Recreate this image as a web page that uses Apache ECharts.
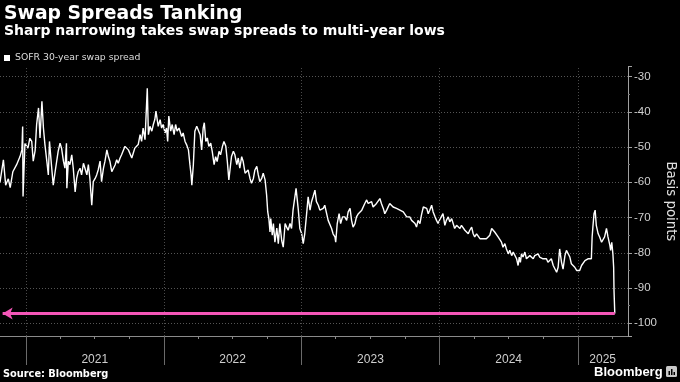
<!DOCTYPE html>
<html><head><meta charset="utf-8">
<script src="https://cdn.jsdelivr.net/npm/echarts@6/dist/echarts.min.js"></script>
<style>html,body{margin:0;padding:0;background:#000}#c{width:680px;height:382px}</style>
</head><body><div id="c"></div>
<script>
const seriesName = 'SOFR 30-year swap spread';
const dates = [
'2020-10-24','2020-11-02','2020-11-08','2020-11-15','2020-11-20','2020-11-27','2020-12-07','2020-12-16','2020-12-21','2020-12-23','2020-12-24','2020-12-29',
'2021-01-06','2021-01-11','2021-01-16','2021-01-20','2021-01-25','2021-01-29','2021-02-03','2021-02-07','2021-02-12','2021-02-16','2021-02-20','2021-02-25',
'2021-03-01','2021-03-04','2021-03-10','2021-03-14','2021-03-19','2021-03-27','2021-04-01','2021-04-05','2021-04-10','2021-04-14','2021-04-18','2021-04-19',
'2021-04-23','2021-04-27','2021-05-02','2021-05-06','2021-05-11','2021-05-15','2021-05-19','2021-05-24','2021-05-28','2021-06-02','2021-06-06','2021-06-11',
'2021-06-15','2021-06-19','2021-06-24','2021-06-28','2021-07-03','2021-07-07','2021-07-11','2021-07-16','2021-07-20','2021-07-25','2021-07-29','2021-08-03',
'2021-08-07','2021-08-11','2021-08-16','2021-08-20','2021-08-25','2021-08-29','2021-09-02','2021-09-07','2021-09-11','2021-09-16','2021-09-20','2021-09-29',
'2021-10-08','2021-10-12','2021-10-16','2021-10-25','2021-10-30','2021-11-03','2021-11-07','2021-11-12','2021-11-18','2021-11-21','2021-11-25','2021-11-30',
'2021-12-04','2021-12-08','2021-12-11','2021-12-15','2021-12-17','2021-12-22','2021-12-26','2021-12-30',
'2022-01-04','2022-01-08','2022-01-11','2022-01-14','2022-01-19','2022-01-23','2022-01-28','2022-02-01','2022-02-05','2022-02-10','2022-02-17','2022-02-21',
'2022-02-26','2022-03-02','2022-03-07','2022-03-11','2022-03-14','2022-03-16','2022-03-20','2022-03-24','2022-03-29','2022-04-02','2022-04-07','2022-04-11',
'2022-04-15','2022-04-18','2022-04-22','2022-04-26','2022-04-30','2022-05-05','2022-05-09','2022-05-14','2022-05-18','2022-05-22','2022-05-27','2022-05-31',
'2022-06-05','2022-06-09','2022-06-14','2022-06-18','2022-06-22','2022-06-25','2022-06-29','2022-07-04','2022-07-08','2022-07-13','2022-07-17','2022-07-21',
'2022-07-26','2022-07-30','2022-08-04','2022-08-08','2022-08-12','2022-08-17','2022-08-21','2022-08-26','2022-08-30','2022-09-04','2022-09-08','2022-09-12',
'2022-09-17','2022-09-21','2022-09-26','2022-09-30','2022-10-03','2022-10-06','2022-10-09','2022-10-11','2022-10-15','2022-10-18','2022-10-22','2022-10-27',
'2022-10-31','2022-11-04','2022-11-09','2022-11-13','2022-11-18','2022-11-22','2022-11-26','2022-12-01','2022-12-05','2022-12-09','2022-12-17','2022-12-23',
'2022-12-27',
'2023-01-01','2023-01-05','2023-01-09','2023-01-14','2023-01-18','2023-01-23','2023-01-27','2023-01-31','2023-02-05','2023-02-09','2023-02-14','2023-02-18',
'2023-02-23','2023-02-27','2023-03-03','2023-03-08','2023-03-12','2023-03-17','2023-03-21','2023-03-25','2023-03-30','2023-04-01','2023-04-05','2023-04-10',
'2023-04-14','2023-04-19','2023-04-25','2023-04-30','2023-05-04','2023-05-09','2023-05-13','2023-05-17','2023-05-22','2023-05-26','2023-05-31','2023-06-04',
'2023-06-09','2023-06-13','2023-06-17','2023-06-22','2023-06-26','2023-06-30','2023-07-05','2023-07-09','2023-07-18','2023-07-27','2023-07-31','2023-08-05',
'2023-08-09','2023-08-14','2023-08-18','2023-08-22','2023-08-27','2023-08-31','2023-09-05','2023-09-09','2023-09-13','2023-09-18','2023-09-22','2023-09-27',
'2023-10-01','2023-10-06','2023-10-10','2023-10-14','2023-10-19','2023-10-23','2023-10-28','2023-11-01','2023-11-05','2023-11-10','2023-11-14','2023-11-19',
'2023-11-23','2023-11-28','2023-12-02','2023-12-06','2023-12-11','2023-12-15','2023-12-20','2023-12-24','2023-12-28',
'2024-01-02','2024-01-06','2024-01-10','2024-01-15','2024-01-19','2024-01-24','2024-01-28','2024-02-02','2024-02-06','2024-02-10','2024-02-15','2024-02-19',
'2024-02-24','2024-02-28','2024-03-03','2024-03-08','2024-03-12','2024-03-17','2024-03-21','2024-03-26','2024-03-30','2024-04-03','2024-04-08','2024-04-12',
'2024-04-17','2024-04-21','2024-04-25','2024-04-30','2024-05-04','2024-05-09','2024-05-13','2024-05-18','2024-05-22','2024-05-26','2024-05-31','2024-06-04',
'2024-06-09','2024-06-13','2024-06-17','2024-06-22','2024-06-26','2024-07-01','2024-07-05','2024-07-10','2024-07-14','2024-07-18','2024-07-23','2024-07-27',
'2024-07-30','2024-08-02','2024-08-05','2024-08-09','2024-08-14','2024-08-18','2024-08-22','2024-08-27','2024-08-31','2024-09-05','2024-09-09','2024-09-14',
'2024-09-18','2024-09-22','2024-09-27','2024-10-01','2024-10-06','2024-10-10','2024-10-14','2024-10-19','2024-10-23','2024-10-28','2024-11-01','2024-11-06',
'2024-11-10','2024-11-14','2024-11-19','2024-11-23','2024-11-28','2024-12-02','2024-12-06','2024-12-11','2024-12-15','2024-12-20','2024-12-24','2024-12-29',
'2025-01-02','2025-01-06','2025-01-11','2025-01-15','2025-01-20','2025-01-24','2025-01-28','2025-02-02','2025-02-06','2025-02-08','2025-02-10','2025-02-13',
'2025-02-16','2025-02-19','2025-02-24','2025-02-28','2025-03-05','2025-03-09','2025-03-13','2025-03-18','2025-03-22','2025-03-27','2025-03-29','2025-04-01',
'2025-04-04','2025-04-06','2025-04-07','2025-04-09'
];
const values = [
-60,-53.6,-60.8,-59,-61.5,-57,-55,-52.7,-50.8,-44.2,-64,-49,
-50.3,-47.5,-48.4,-54,-51,-43.6,-38.9,-47.4,-37,-44.6,-49.3,-54,
-57.9,-48.4,-56,-60.8,-57,-51.2,-48.9,-50.3,-54,-56,-48.9,-61.7,
-54,-55,-52.2,-56,-62.7,-58.9,-57,-56,-57.9,-54.6,-56,-57.9,
-55,-58.9,-66.5,-59.8,-58.9,-57.9,-56.5,-54,-59.8,-56,-54,-50.8,
-52.7,-54,-57,-57.4,-55,-53.6,-54.6,-53.1,-52.2,-52.7,-49.8,-50.8,
-53.1,-51.7,-50.3,-49.3,-46.5,-48.4,-44.6,-47.9,-33.3,-46.5,-44.1,-45.5,
-43.6,-42.2,-39.8,-42.7,-44.1,-42.2,-44.6,-43.6,
-46,-44.6,-48.4,-41.2,-45.5,-43.6,-46.5,-43.6,-45.5,-44.6,-47,-46,
-48.4,-49.3,-50.8,-55,-57.9,-60.8,-55,-45.5,-44.1,-44.6,-46.5,-50.8,
-44.6,-43.1,-48.4,-47.4,-49.8,-48.9,-51.2,-55,-52.7,-54.1,-51.2,-52.2,
-49.8,-48.4,-49.8,-54.1,-59.3,-56.5,-52.7,-51.2,-52.2,-55,-53.1,-56,
-52.7,-54.1,-57.4,-57.9,-56.5,-58.9,-60.3,-58.9,-56.5,-55.5,-57.9,-59.8,
-58.9,-57.4,-59.3,-63.6,-68.4,-70.3,-74.1,-70.3,-75,-71.7,-77,-73,
-77.4,-71.7,-76.5,-78.4,-71.7,-72.7,-73.6,-71.7,-73.1,-67.9,-61.7,-67.9,
-73.1,
-74.6,-77.4,-74.6,-68.9,-64.1,-67.9,-65.5,-64.1,-62.2,-65.5,-66.5,-67.9,
-68.4,-67.4,-66.5,-68.9,-70.8,-71.2,-73.1,-74.6,-75.5,-77,-71.7,-68.9,
-71.7,-69.8,-69.8,-70.8,-68.4,-67.4,-70.8,-72.7,-71.7,-69.8,-68.9,-69.3,
-67.9,-67.4,-66,-65,-66,-66.5,-65.5,-67,-66,-64.6,-66,-67.4,
-68.9,-67.9,-67.4,-66,-65.5,-67,-66.5,-67.4,-67,-67.9,-67.4,-68.4,
-68.9,-69.8,-69.3,-69.8,-70.8,-70.3,-71.7,-72.7,-70.8,-71.7,-69.3,-67,
-66.5,-67.4,-68.9,-67.9,-66.5,-68.4,-69.8,-70.8,-71.7,
-70.5,-70.3,-68.9,-72.2,-70.8,-69.8,-71.2,-70.3,-71.7,-73.1,-72.2,-72.7,
-73.1,-72.2,-72.7,-73.6,-74.1,-74.6,-73.6,-72.7,-74.6,-75.5,-74.6,-75,
-76,-76.5,-76,-76.5,-76,-75.5,-75,-73.1,-72.7,-74.1,-74.6,-75.5,
-76,-77,-78.4,-77.4,-78.9,-80.3,-79.3,-80.8,-79.8,-80.3,-81.7,-83.6,
-81.2,-82.7,-80.3,-81.2,-79.8,-81.7,-82.2,-80.8,-81.2,-81.7,-80.8,-80.8,
-80.3,-81.2,-81.2,-81.7,-82.2,-81.7,-82.7,-82.7,-81.7,-83.6,-84.1,-85.5,
-84.1,-78.9,-82.7,-84.6,-80.8,-79.3,-78.9,-81.2,-83.1,-82.7,-84.1,-85,
-84.6,-85,-83.6,-83.1,-82.2,-82.7,-81.7,-81.2,-81.7,-75.5,-72.7,-68.9,
-67.9,-72.2,-74.6,-75.5,-77,-77.4,-75.5,-73.1,-75.5,-77.9,-79.3,-77,
-80.3,-84.1,-90.8,-97.2
];
const axisRange = ['2020-10-24', '2025-05-14'];
const yRange = [-103.6, -27.2];
const yearStarts = ['2021-01-01','2022-01-01','2023-01-01','2024-01-01','2025-01-01'];
const yearLabelDates = ['2021-07-02','2022-07-02','2023-07-02','2024-07-02','2025-03-08'];
const quarterDates = ['2021-04-01','2021-07-01','2021-10-01','2022-04-01','2022-07-01','2022-10-01',
  '2023-04-01','2023-07-01','2023-10-01','2024-04-01','2024-07-01','2024-10-01','2025-04-01'];
const arrowLevel = -97.2;
const arrowDates = ['2020-10-31', '2025-04-09'];

const ts = s => +new Date(s + 'T00:00:00');
const data = dates.map((d, i) => [ts(d), values[i]]);

const chart = echarts.init(document.getElementById('c'), null, {renderer: 'canvas'});
const axisGray = '#8a8a8a';
chart.setOption({
  backgroundColor: '#000',
  animation: false,
  title: [
    {text: 'Swap Spreads Tanking', left: 4, top: 3.5, padding: 0,
     textStyle: {color: '#fff', fontFamily: 'DejaVu Sans', fontWeight: 'bold', fontSize: 18.8, lineHeight: 22}},
    {text: 'Sharp narrowing takes swap spreads to multi-year lows', left: 4, top: 23.5, padding: 0,
     textStyle: {color: '#fff', fontFamily: 'DejaVu Sans', fontWeight: 'bold', fontSize: 14, lineHeight: 16}},
    {text: 'Source: Bloomberg', left: 3, top: 368, padding: 0,
     textStyle: {color: '#fff', fontFamily: 'DejaVu Sans', fontWeight: 'bold', fontSize: 9.8, lineHeight: 12}},
    {text: 'Bloomberg', left: 594, top: 365, padding: 0,
     textStyle: {color: '#fff', fontFamily: 'Liberation Sans', fontWeight: 'bold', fontSize: 13, lineHeight: 15}}
  ],
  legend: {
    left: 4, top: 52, padding: 0, icon: 'rect', itemWidth: 6, itemHeight: 6,
    selectedMode: false,
    textStyle: {color: '#dcdcdc', fontFamily: 'DejaVu Sans', fontSize: 9.3, lineHeight: 12},
    data: [{name: seriesName, itemStyle: {color: '#fff'}}]
  },
  grid: {left: 0, right: 52, top: 66.7, bottom: 46, containLabel: false, outerBoundsMode: 'none'},
  xAxis: [
    {type: 'value', min: ts(axisRange[0]), max: ts(axisRange[1]), scale: true,
     axisLine: {show: true, lineStyle: {color: axisGray, width: 1}},
     axisTick: {show: true, customValues: yearStarts.map(ts), length: 29, lineStyle: {color: '#6a6a6a'}},
     axisLabel: {show: true, customValues: yearLabelDates.map(ts), color: '#cfcfcf',
       fontFamily: 'Liberation Sans', fontSize: 12, margin: 18,
       formatter: v => String(new Date(v).getFullYear())},
     splitLine: {show: false}, minorTick: {show: false}},
    {type: 'value', min: ts(axisRange[0]), max: ts(axisRange[1]), scale: true, position: 'bottom',
     axisLine: {show: false},
     axisTick: {show: true, customValues: quarterDates.map(ts), length: 3, lineStyle: {color: axisGray}},
     axisLabel: {show: false}, splitLine: {show: false}}
  ],
  yAxis: {
    type: 'value', position: 'right', min: yRange[0], max: yRange[1],
    splitNumber: 8, minInterval: 10, maxInterval: 10,
    name: 'Basis points', nameLocation: 'middle', nameRotate: -90, nameGap: 36, nameMoveOverlap: false,
    nameTextStyle: {color: '#e0e0e0', fontFamily: 'DejaVu Sans', fontSize: 13.3},
    axisLine: {show: true, lineStyle: {color: '#a0a0a0'}},
    axisTick: {show: true, length: 4, lineStyle: {color: '#a0a0a0'}},
    minorTick: {show: true, splitNumber: 2, length: 2, lineStyle: {color: '#777'}},
    axisLabel: {color: '#d0d0d0', fontFamily: 'Liberation Sans', fontSize: 11.5, margin: 6,
      showMinLabel: false, showMaxLabel: false},
    splitLine: {show: true, showMinLine: false, showMaxLine: false,
      lineStyle: {color: '#555', type: [1, 2], width: 1}}
  },
  series: [{
    name: seriesName, type: 'line', data: data, showSymbol: false, symbol: 'none',
    sampling: 'none', lineStyle: {color: '#fff', width: 1.4}, itemStyle: {color: '#fff'},
    silent: true, z: 3,
    markLine: {
      silent: true, symbol: ['none', 'none'], animation: false, label: {show: false},
      data: yearStarts.map(d => ({xAxis: ts(d), lineStyle: {color: '#4a4a4a', type: [1, 2], width: 1}}))
        .concat([[
          {coord: [ts(arrowDates[0]), arrowLevel], symbol: 'arrow', symbolSize: [9, 10],
           lineStyle: {color: '#f456b8', width: 3, type: 'solid'}},
          {coord: [ts(arrowDates[1]), arrowLevel], symbol: 'none'}
        ]])
    }
  }],
  graphic: [
    {type: 'rect', left: 666, top: 366, shape: {width: 11, height: 11, r: 1.5}, style: {fill: '#c8c8c8'}},
    {type: 'rect', left: 668.5, top: 371, shape: {width: 1.5, height: 4}, style: {fill: '#000'}},
    {type: 'rect', left: 671, top: 369, shape: {width: 1.5, height: 6}, style: {fill: '#000'}},
    {type: 'rect', left: 673.5, top: 372, shape: {width: 1.5, height: 3}, style: {fill: '#000'}}
  ]
});
</script></body></html>
